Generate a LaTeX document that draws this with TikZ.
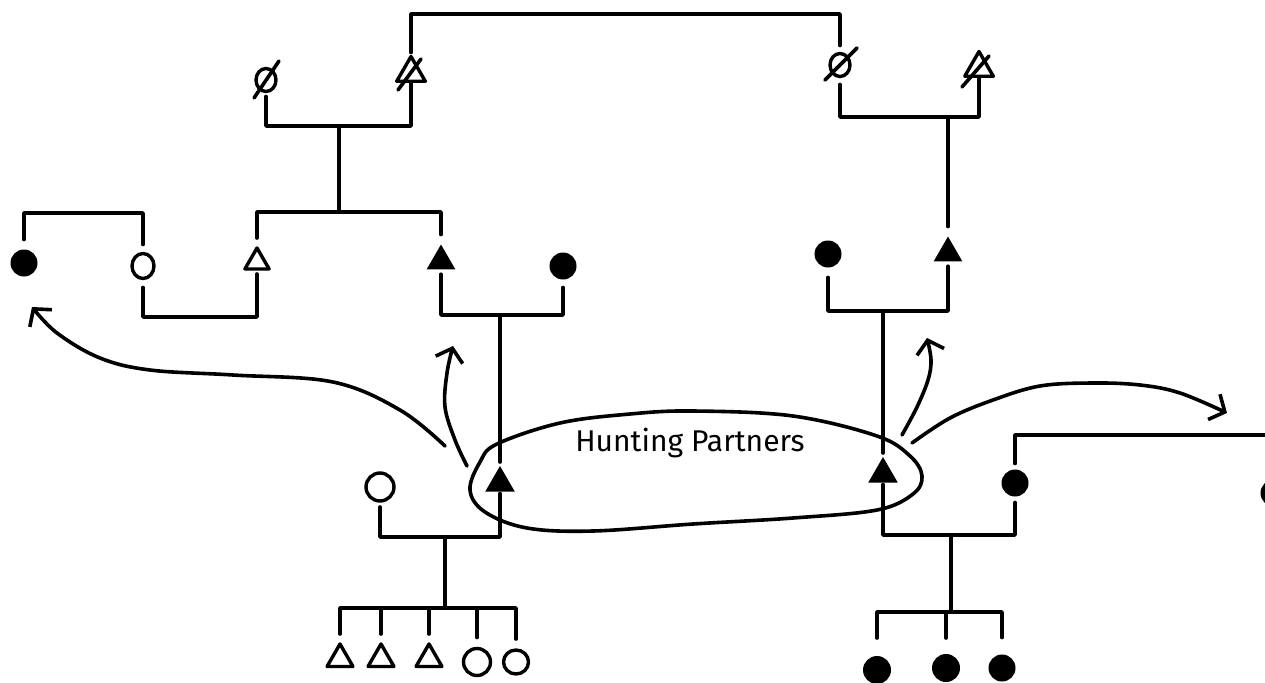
\documentclass[tikz,border=0pt]{standalone}
\usepackage{fontspec}
\newfontfamily\handfont{Fira Sans}
\usetikzlibrary{shapes.geometric,arrows.meta}
\begin{document}
\begin{tikzpicture}[x=1pt,y=-1pt,
  ln/.style={line width=3.6pt, line cap=round, line join=round},
  fdot/.style={circle, fill=black, minimum size=27pt, inner sep=0pt, outer sep=10pt},
  odot/.style={ellipse, draw, line width=3.4pt, minimum width=22pt, minimum height=25pt, inner sep=0pt, outer sep=9pt},
  ftri/.style={regular polygon, regular polygon sides=3, fill=black, minimum size=33pt, inner sep=0pt, outer sep=5pt},
  otri/.style={regular polygon, regular polygon sides=3, draw, line width=3.4pt, line join=round, minimum size=29pt, inner sep=0pt, outer sep=5pt},
  arr/.style={ln, -{Straight Barb[length=12pt,width=28pt]}},
  lbl/.style={font=\handfont\fontsize{30}{34}\selectfont, inner sep=0pt}]
\clip (0,0) rectangle (1265,682);
\fill[white] (0,0) rectangle (1265,682);

% ---- top generation
\node[odot, minimum width=20pt, minimum height=23pt, outer sep=5pt] (phiL) at (266,80) {};
\draw[ln] (phiL) ++(-12,18) -- ++(25,-37);
\node[otri, minimum size=33pt, outer sep=2pt] (xtL) at (411,73) {};
\draw[ln] (xtL) ++(-13,17) -- ++(23,-31);
\node[odot, minimum width=20pt, minimum height=23pt, outer sep=8pt] (phiR) at (840,65) {};
\draw[ln] (phiR) ++(-15,15) -- ++(32,-32);
\node[otri, minimum size=33pt, outer sep=2pt] (xtR) at (979,68) {};
\draw[ln] (xtR) ++(-17,19) -- ++(27,-31);

\coordinate (top) at (626,14);
\draw[ln] (xtL.north) |- (top) -| (phiR.north);

\coordinate (mL) at (339,126);
\coordinate (sL) at (339,212);
\draw[ln] (phiL.south) |- (mL) -| (xtL.south);
\draw[ln] (mL) -- (sL);

\coordinate (mR) at (948,117);
\draw[ln] (phiR.south) |- (mR) -| (xtR.south);

% ---- middle generation, left
\node[fdot] (dotL) at (24,263) {};
\node[odot] (circL) at (143,266) {};
\node[otri, minimum size=28pt] (triO) at (257,262) {};
\node[ftri] (triB) at (441,261) {};
\node[fdot, outer sep=8pt] (dotM) at (563,266) {};

\coordinate (bDC) at (83,213);
\draw[ln] (dotL.north) |- (bDC) -| (circL.north);
\draw[ln] (triO.north) |- (sL) -| (triB.north);
\coordinate (m2) at (200,317);
\draw[ln] (circL.south) |- (m2) -| (triO.south);
\coordinate (m3) at (500,315);
\draw[ln] (triB.south) |- (m3) -| (dotM.south);

% ---- middle generation, right
\node[fdot] (dotR) at (828,254) {};
\node[ftri] (triR) at (948,253) {};
\draw[ln] (mR) -- (triR.north);
\coordinate (m4) at (883,311);
\draw[ln] (dotR.south) |- (m4) -| (triR.south);

% ---- hunting partners generation
\node[ftri, minimum size=34pt, outer sep=2pt] (hpL) at (500,483) {};
\node[ftri, minimum size=34pt, outer sep=2pt] (hpR) at (883,474) {};
\node[odot, minimum width=28pt, minimum height=28pt, outer sep=6pt] (circ2) at (380,487) {};
\node[fdot, outer sep=6pt] (dotR2) at (1015,483) {};
\node[fdot] (dotE) at (1274,493) {};

\draw[ln] (m3) -- (hpL.north);
\draw[ln] (m4) -- (hpR.north);
\coordinate (m6) at (445,537);
\draw[ln] (circ2.south) |- (m6) -| (hpL.south);
\coordinate (m5) at (951,535);
\draw[ln] (hpR.south) |- (m5) -| (dotR2.south);
\coordinate (rEdge) at (1268,435);
\draw[ln] (dotR2.north) |- (rEdge);

% ---- children, left
\coordinate (c6) at (445,608);
\draw[ln] (m6) -- (c6);
\node[otri, minimum size=30pt] (t1) at (340,659) {};
\node[otri, minimum size=30pt] (t2) at (381,659) {};
\node[otri, minimum size=30pt] (t3) at (429,659) {};
\node[odot, minimum width=27pt, minimum height=27pt, outer sep=11pt] (o1) at (477,662) {};
\node[odot, minimum width=25pt, minimum height=24pt, outer sep=11pt] (o2) at (516,662) {};
\draw[ln] (t1.north) |- (c6) -| (o2.north);
\draw[ln] (t2.north) -- (t2.north |- c6);
\draw[ln] (t3.north) -- (t3.north |- c6);
\draw[ln] (o1.north) -- (o1.north |- c6);

% ---- children, right
\coordinate (c5) at (951,612);
\draw[ln] (m5) -- (c5);
\node[fdot, minimum size=28pt, outer sep=18pt] (k1) at (877,670) {};
\node[fdot, minimum size=28pt, outer sep=16pt] (k2) at (946,668) {};
\node[fdot, minimum size=27pt, outer sep=17pt] (k3) at (1002,668) {};
\draw[ln] (k1.north) |- (c5) -| (k3.north);
\draw[ln] (k2.north) -- (k2.north |- c5);

% ---- ellipse and label
\draw[ln] plot[smooth cycle, tension=0.6] coordinates {
  (470,490) (480,462) (497,444) (560,423) (630,414) (693,411) (793,416)
  (877,436) (910,456) (922,476) (913,494) (877,510) (793,518) (693,524)
  (593,531) (527,528) (485,512)};
\node[lbl] (hp) at (690,443) {Hunting Partners};

% ---- arrows
\coordinate (aS1) at (445,446);
\coordinate (aE1) at (32,307);
\draw[arr] plot[smooth, tension=0.6] coordinates {(aS1) (400,410) (333,382) (233,375) (150,370) (100,358) (57,333) (aE1)};
\coordinate (aS2) at (467,466);
\coordinate (aE2) at (453,346);
\draw[arr] plot[smooth, tension=0.6] coordinates {(aS2) (455,440) (445,407) (447,373) (aE2)};
\coordinate (aS3) at (902,435);
\coordinate (aE3) at (927,338);
\draw[arr] plot[smooth, tension=0.6] coordinates {(aS3) (917,407) (928,380) (931,360) (aE3)};
\coordinate (aS4) at (912,443);
\coordinate (aE4) at (1227,413);
\draw[arr] plot[smooth, tension=0.6] coordinates {(aS4) (950,418) (993,400) (1040,386) (1093,383) (1140,385) (1180,393) (aE4)};
\end{tikzpicture}
\end{document}
